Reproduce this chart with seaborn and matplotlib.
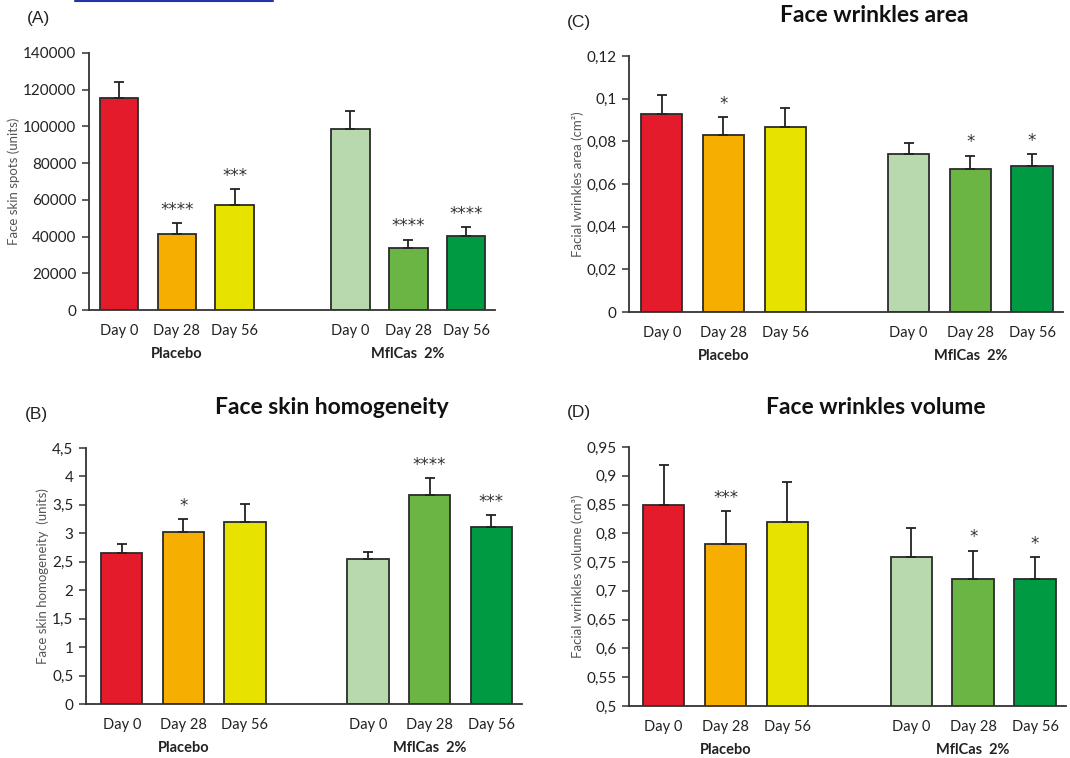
import numpy as np
import pandas as pd
import matplotlib.pyplot as plt
import seaborn as sns
from matplotlib.lines import Line2D
from matplotlib.ticker import FuncFormatter

# categories
days = ['Day 0', 'Day 28', 'Day 56']
groups = ['Placebo', 'MflCas  2%']
bar_colors = ['#E41B2B', '#F6AF00', '#E8E200', '#B8D9AE', '#6AB543', '#009A43']

# (A) face skin spots
spots_mean = [115500, 41500, 57100, 98500, 33600, 40200]
spots_err = [8900, 6000, 8700, 10000, 4800, 5100]
spots_stars = ['', '****', '***', '', '****', '****']

# (B) face skin homogeneity
homog_mean = [2.66, 3.03, 3.20, 2.55, 3.67, 3.12]
homog_err = [0.15, 0.22, 0.32, 0.13, 0.30, 0.20]
homog_stars = ['', '*', '', '', '****', '***']

# (C) face wrinkles area
area_mean = [0.093, 0.0828, 0.0867, 0.0739, 0.0670, 0.0683]
area_err = [0.0086, 0.0085, 0.0091, 0.0055, 0.0063, 0.0056]
area_stars = ['', '*', '', '', '*', '*']

# (D) face wrinkles volume
volume_mean = [0.849, 0.781, 0.820, 0.759, 0.720, 0.720]
volume_err = [0.070, 0.058, 0.069, 0.051, 0.050, 0.039]
volume_stars = ['', '***', '', '', '*', '*']

sns.set_theme(style='white')
plt.rcParams['font.family'] = ['Lato', 'DejaVu Sans']

slots = [g + ' ' + d for g in groups for d in days]
order = slots[:3] + ['gap'] + slots[3:]
palette = dict(zip(slots, bar_colors))
W, H = 1070, 758

fig = plt.figure(figsize=(W / 100, H / 100), dpi=100)


def comma_fmt(v, pos):
    return f"{round(v, 4):g}".replace('.', ',')


def panel(box, mean, err, stars, ylim, step, ylabel, letter, title, xmin):
    l, t, r, b = box
    ax = fig.add_axes([l / W, 1 - b / H, (r - l) / W, (b - t) / H])
    df = pd.DataFrame({'slot': slots, 'value': mean, 'err': err, 'stars': stars})
    sns.barplot(data=df, x='slot', y='value', order=order, hue='slot',
                palette=palette, saturation=1, width=0.67, edgecolor='#2b2b2b',
                linewidth=1.3, errorbar=None, legend=False, ax=ax)
    pos = [order.index(s) for s in df['slot']]
    ax.errorbar(pos, df['value'], yerr=[np.zeros(len(df)), df['err']],
                fmt='none', ecolor='#222222', elinewidth=1.3,
                capsize=3.5, capthick=1.3, zorder=5)
    for x, y, e, s in zip(pos, df['value'], df['err'], df['stars']):
        if s:
            ax.annotate(s, (x, y + e), xytext=(0, 3), textcoords='offset points',
                        ha='center', va='bottom', fontsize=12, color='#333333',
                        family='DejaVu Sans')
    ax.set_ylim(*ylim)
    ax.set_xlim(xmin, len(order) - 0.5)
    ax.set_yticks(np.arange(ylim[0], ylim[1] + step / 2, step))
    ax.yaxis.set_major_formatter(FuncFormatter(comma_fmt))
    ax.set_xticks(range(len(order)))
    ax.set_xticklabels([days[slots.index(s) % 3] if s != 'gap' else '' for s in order])
    ax.tick_params(axis='x', length=0, pad=10, labelsize=10.5, labelcolor='#222222')
    ax.tick_params(axis='y', left=True, direction='out', length=5, width=1.1,
                   color='#333333', labelsize=11, labelcolor='#222222', pad=4)
    for g, grp in enumerate(groups):
        cx = np.mean(pos[g * 3:(g + 1) * 3])
        ax.text(cx, -44 / (b - t), grp, transform=ax.get_xaxis_transform(),
                ha='center', va='center', fontsize=10.5, fontweight='bold',
                color='#222222')
    sns.despine(ax=ax)
    for sp in ['left', 'bottom']:
        ax.spines[sp].set_color('#333333')
        ax.spines[sp].set_linewidth(1.3)
    ax.set_xlabel('')
    ax.set_ylabel(ylabel, fontsize=9.5, color='#555555', labelpad=2)
    if title:
        ax.text(0.565, 1 + 40 / (b - t), title, transform=ax.transAxes,
                ha='center', va='center', fontsize=16.5, fontweight='bold',
                color='#111111')
    fig.text((l - 50) / W, 1 - (t - 34) / H, letter, ha='center', va='center',
             fontsize=12.5, family=['Liberation Sans', 'DejaVu Sans'],
             color='#222222')
    return ax


panel((89, 53, 495, 310), spots_mean, spots_err, spots_stars, (0, 140000), 20000,
      'Face skin spots (units)', '(A)', None, -0.52)
panel((629, 56, 1063, 312), area_mean, area_err, area_stars, (0, 0.12), 0.02,
      'Facial wrinkles area (cm²)', '(C)', 'Face wrinkles area', -0.53)
panel((86, 448, 522, 704), homog_mean, homog_err, homog_stars, (0, 4.5), 0.5,
      'Face skin homogeneity  (units)', '(B)', 'Face skin homogeneity', -0.58)
panel((629, 447, 1066, 706), volume_mean, volume_err, volume_stars, (0.5, 0.95), 0.05,
      'Facial wrinkles volume (cm³)', '(D)', 'Face wrinkles volume', -0.56)

# link underline remnant at the top edge
fig.add_artist(Line2D([75 / W, 273 / W], [1 - 1 / H, 1 - 1 / H], color='#2233aa',
                      linewidth=1.5))

fig.savefig('out.png', dpi=100)
